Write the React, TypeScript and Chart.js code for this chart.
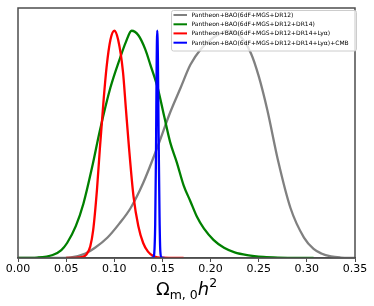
import React, { useEffect, useRef } from "react";
import { Chart, registerables } from "chart.js";

Chart.register(...registerables);

const seriesLabels = [
  "Pantheon+BAO(6dF+MGS+DR12)",
  "Pantheon+BAO(6dF+MGS+DR12+DR14)",
  "Pantheon+BAO(6dF+MGS+DR12+DR14+Lyα)",
  "Pantheon+BAO(6dF+MGS+DR12+DR14+Lyα)+CMB",
];
const seriesColors = ["#808080", "#008000", "#ff0000", "#0000ff"];

const grayX = [0.0, 0.04, 0.055, 0.07, 0.08, 0.093, 0.105, 0.117, 0.13, 0.145, 0.158, 0.169, 0.179, 0.19, 0.203, 0.218, 0.23, 0.242, 0.25, 0.259, 0.27, 0.283, 0.297, 0.307, 0.315, 0.325, 0.335, 0.35];
const grayY = [0, 0, 0.003, 0.02, 0.045, 0.09, 0.15, 0.22, 0.33, 0.49, 0.64, 0.75, 0.85, 0.92, 0.97, 1.0, 0.98, 0.9, 0.8, 0.65, 0.43, 0.22, 0.09, 0.04, 0.02, 0.007, 0.002, 0];

const greenX = [0.0, 0.02, 0.036, 0.045, 0.051, 0.06, 0.068, 0.077, 0.085, 0.096, 0.106, 0.112, 0.118, 0.125, 0.132, 0.1375, 0.145, 0.152, 0.158, 0.165, 0.172, 0.179, 0.186, 0.193, 0.203, 0.214, 0.225, 0.238, 0.255, 0.27, 0.307];
const greenY = [0, 0.002, 0.013, 0.035, 0.066, 0.14, 0.24, 0.4, 0.56, 0.75, 0.88, 0.95, 1.0, 0.98, 0.92, 0.85, 0.75, 0.62, 0.51, 0.42, 0.32, 0.25, 0.18, 0.13, 0.08, 0.045, 0.025, 0.013, 0.005, 0.002, 0];

const redX = [0.05, 0.06, 0.066, 0.071, 0.075, 0.078, 0.082, 0.085, 0.089, 0.092, 0.096, 0.1, 0.104, 0.109, 0.112, 0.115, 0.12, 0.125, 0.13, 0.135, 0.14, 0.145, 0.15, 0.172];
const redY = [0, 0.001, 0.004, 0.015, 0.05, 0.12, 0.3, 0.48, 0.7, 0.84, 0.96, 1.0, 0.96, 0.82, 0.66, 0.5, 0.27, 0.14, 0.066, 0.028, 0.01, 0.003, 0.001, 0];

const blueX = [0.138, 0.1405, 0.1415, 0.1425, 0.1433, 0.144, 0.1446, 0.1453, 0.146, 0.147, 0.1478, 0.149, 0.152];
const blueY = [0, 0.002, 0.02, 0.15, 0.45, 0.85, 1.0, 0.88, 0.55, 0.18, 0.03, 0.003, 0];

const xTicks = [0.0, 0.05, 0.1, 0.15, 0.2, 0.25, 0.3, 0.35];

const toPts = (xs: number[], ys: number[]) => xs.map((x, i) => ({ x, y: ys[i] }));

const framePlugin = {
  id: "frameAndExtras",
  afterDraw(chart: any) {
    const { ctx, chartArea } = chart;
    const { left, right, top, bottom } = chartArea;
    ctx.save();
    // frame
    ctx.strokeStyle = "#4d4d4d";
    ctx.lineWidth = 1.5;
    ctx.strokeRect(left, top, right - left, bottom - top);

    // legend
    const bx = 171.5, by = 10.5, bw = 185, bh = 40.5;
    ctx.fillStyle = "rgba(255,255,255,0.8)";
    ctx.strokeStyle = "#cccccc";
    ctx.lineWidth = 1;
    ctx.beginPath();
    (ctx as any).roundRect(bx, by, bw, bh, 2);
    ctx.fill();
    ctx.stroke();
    const rowY = [15, 24.3, 33.4, 42.7];
    ctx.font = "6px 'DejaVu Sans'";
    ctx.textBaseline = "middle";
    ctx.textAlign = "left";
    seriesLabels.forEach((lab, i) => {
      ctx.strokeStyle = seriesColors[i];
      ctx.lineWidth = 2;
      ctx.beginPath();
      ctx.moveTo(173.5, rowY[i]);
      ctx.lineTo(187, rowY[i]);
      ctx.stroke();
      ctx.fillStyle = "#000";
      ctx.fillText(lab, 191.5, rowY[i] + 0.3);
    });

    // x title: Ω_{m,0} h^2
    const big = "18px 'DejaVu Sans'";
    const bigIt = "oblique 18px 'DejaVu Sans'";
    const small = "12.5px 'DejaVu Sans'";
    const parts = [
      { t: "Ω", f: big, dy: 0 },
      { t: "m, 0", f: small, dy: 3.5 },
      { t: "h", f: bigIt, dy: 0 },
      { t: "2", f: small, dy: -8 },
    ];
    let total = 0;
    const widths = parts.map((p) => {
      ctx.font = p.f;
      const w = ctx.measureText(p.t).width;
      total += w;
      return w;
    });
    let x = (left + right) / 2 - total / 2;
    const base = 295;
    ctx.fillStyle = "#000";
    ctx.textBaseline = "alphabetic";
    parts.forEach((p, i) => {
      ctx.font = p.f;
      ctx.fillText(p.t, x, base + p.dy);
      x += widths[i];
    });
    ctx.restore();
  },
};

export default function App() {
  const ref = useRef<HTMLCanvasElement | null>(null);
  useEffect(() => {
    if (!ref.current) return;
    const mk = (i: number, xs: number[], ys: number[]) => ({
      label: seriesLabels[i],
      data: toPts(xs, ys),
      borderColor: seriesColors[i],
      backgroundColor: seriesColors[i],
      borderWidth: 2.3,
      pointRadius: 0,
      cubicInterpolationMode: "monotone" as const,
      fill: false,
    });
    const chart = new Chart(ref.current, {
      type: "line",
      data: {
        datasets: [
          mk(3, blueX, blueY),
          mk(2, redX, redY),
          mk(1, greenX, greenY),
          mk(0, grayX, grayY),
        ],
      },
      options: {
        animation: false,
        responsive: false,
        maintainAspectRatio: false,
        layout: { padding: { left: 18, right: 19, top: 8, bottom: 0 } },
        plugins: { legend: { display: false }, tooltip: { enabled: false } },
        scales: {
          x: {
            type: "linear",
            min: 0,
            max: 0.35,
            afterFit: (s: any) => {
              s.height = 48;
            },
            afterBuildTicks: (s: any) => {
              s.ticks = xTicks.map((v) => ({ value: v }));
            },
            ticks: {
              callback: (v: any) => Number(v).toFixed(2),
              font: { family: "'DejaVu Sans'", size: 11 },
              color: "#000",
              padding: 1,
              maxRotation: 0,
              autoSkip: false,
            },
            grid: {
              display: true,
              drawOnChartArea: false,
              drawTicks: true,
              tickLength: 4,
              color: "#4d4d4d",
              lineWidth: 1,
            },
            border: { display: true, color: "#4d4d4d", width: 1.5 },
          },
          y: { display: false, min: 0, max: 1.1 },
        },
      },
      plugins: [framePlugin],
    });
    return () => chart.destroy();
  }, []);
  return (
    <div style={{ position: "absolute", left: 0, top: 0, width: 374, height: 306, background: "#fff" }}>
      <canvas ref={ref} width={374} height={306} style={{ width: 374, height: 306 }} />
    </div>
  );
}
